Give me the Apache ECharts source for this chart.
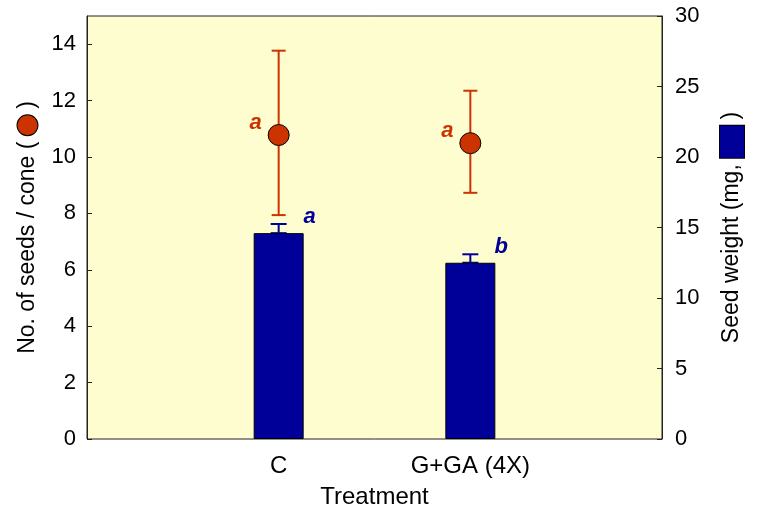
<!DOCTYPE html>
<html><head><meta charset="utf-8">
<script src="https://cdn.jsdelivr.net/npm/echarts@6/dist/echarts.min.js"></script>
<style>html,body{margin:0;padding:0;background:#fff}#c{width:757px;height:506px}</style>
</head><body><div id="c"></div>
<script>
const categories = ['C', 'G+GA (4X)'];
const positions = [1, 2];
const seedWeight = [14.6, 12.5];
const seedWeightErrTop = [15.25, 13.1];
const seedsPerCone = [10.78, 10.49];
const seedsLow = [7.94, 8.73];
const seedsHigh = [13.77, 12.35];
const seedsLetters = ['a', 'a'];
const weightLetters = ['a', 'b'];

const FONT = '"Liberation Sans", Arial, sans-serif';
const ORANGE = '#cc3300', BLUE = '#000099';

function errBars(lows, highs, color, cap) {
  return function (params, api) {
    const i = params.dataIndex;
    const x = positions[i];
    const p1 = api.coord([x, lows[i]]);
    const p2 = api.coord([x, highs[i]]);
    const st = { stroke: color, lineWidth: 2 };
    return { type: 'group', children: [
      { type: 'line', shape: { x1: p1[0], y1: p1[1], x2: p2[0], y2: p2[1] }, style: st },
      { type: 'line', shape: { x1: p1[0] - cap, y1: p1[1], x2: p1[0] + cap, y2: p1[1] }, style: st },
      { type: 'line', shape: { x1: p2[0] - cap, y1: p2[1], x2: p2[0] + cap, y2: p2[1] }, style: st }
    ]};
  };
}
function letters(vals, txts, color, dx, dy) {
  return function (params, api) {
    const i = params.dataIndex;
    const p = api.coord([positions[i], vals[i]]);
    return { type: 'text', x: p[0] + dx, y: p[1] + dy, style: {
      text: txts[i], fill: color, font: 'italic bold 22px ' + FONT, align: 'center', verticalAlign: 'middle' } };
  };
}

const chart = echarts.init(document.getElementById('c'));
chart.setOption({
  animation: false,
  grid: { left: 87, right: 95, top: 16, bottom: 67, outerBoundsMode: 'none', containLabel: false,
    show: true, backgroundColor: '#fefdd0', borderColor: '#222', borderWidth: 1 },
  xAxis: {
    type: 'value', min: 0, max: 3, interval: 1,
    name: 'Treatment', nameLocation: 'middle', nameGap: 46,
    nameTextStyle: { fontFamily: FONT, fontSize: 24, color: '#000' },
    axisLine: { show: false }, axisTick: { show: false }, splitLine: { show: false },
    axisLabel: { fontFamily: FONT, fontSize: 24, color: '#000', margin: 15,
      formatter: v => { const k = positions.indexOf(v); return k >= 0 ? categories[k] : ''; } }
  },
  yAxis: [
    { type: 'value', min: 0, max: 15, interval: 2,
      name: 'No. of seeds / cone ( {c| } )', nameLocation: 'middle', nameGap: 48, nameRotate: 90,
      nameTextStyle: { fontFamily: FONT, fontSize: 23, color: '#000',
        rich: { c: { width: 20, height: 20, borderRadius: 10, backgroundColor: ORANGE, borderColor: '#000', borderWidth: 1 } } },
      axisLine: { show: true, lineStyle: { color: '#222' } },
      axisTick: { show: true, inside: true, length: 5, lineStyle: { color: '#222' } },
      splitLine: { show: false },
      axisLabel: { fontFamily: FONT, fontSize: 22, color: '#000', margin: 11, showMaxLabel: false,
        formatter: v => (v % 2 === 0 ? String(v) : '') }
    },
    { type: 'value', min: 0, max: 30, interval: 5, position: 'right',
      name: 'Seed weight (mg, {b| } )', nameLocation: 'middle', nameGap: 58, nameRotate: 90,
      nameTextStyle: { fontFamily: FONT, fontSize: 23, color: '#000',
        rich: { b: { width: 32, height: 24, backgroundColor: BLUE, borderColor: '#000', borderWidth: 1 } } },
      axisLine: { show: true, lineStyle: { color: '#222' } },
      axisTick: { show: true, inside: true, length: 5, lineStyle: { color: '#222' } },
      splitLine: { show: false },
      axisLabel: { fontFamily: FONT, fontSize: 22, color: '#000', margin: 13 }
    }
  ],
  series: [
    { type: 'bar', yAxisIndex: 1, barWidth: 50, data: positions.map((x, i) => [x, seedWeight[i]]),
      itemStyle: { color: BLUE, borderColor: '#000', borderWidth: 1 }, z: 2 },
    { type: 'custom', yAxisIndex: 1, data: positions.map((x, i) => [x, seedWeight[i]]),
      renderItem: errBars(seedWeight, seedWeightErrTop, BLUE, 8), z: 1 },
    { type: 'custom', yAxisIndex: 1, data: positions.map((x, i) => [x, seedWeight[i]]),
      renderItem: letters(seedWeight, weightLetters, BLUE, 31, -16), z: 5 },
    { type: 'custom', yAxisIndex: 0, data: positions.map((x, i) => [x, seedsPerCone[i]]),
      renderItem: errBars(seedsLow, seedsHigh, ORANGE, 7), z: 3 },
    { type: 'scatter', yAxisIndex: 0, symbolSize: 21, data: positions.map((x, i) => [x, seedsPerCone[i]]),
      itemStyle: { color: ORANGE, borderColor: '#000', borderWidth: 1, opacity: 1 }, z: 4 },
    { type: 'custom', yAxisIndex: 0, data: positions.map((x, i) => [x, seedsPerCone[i]]),
      renderItem: letters(seedsPerCone, seedsLetters, ORANGE, -23, -12), z: 5 }
  ]
});
</script></body></html>
